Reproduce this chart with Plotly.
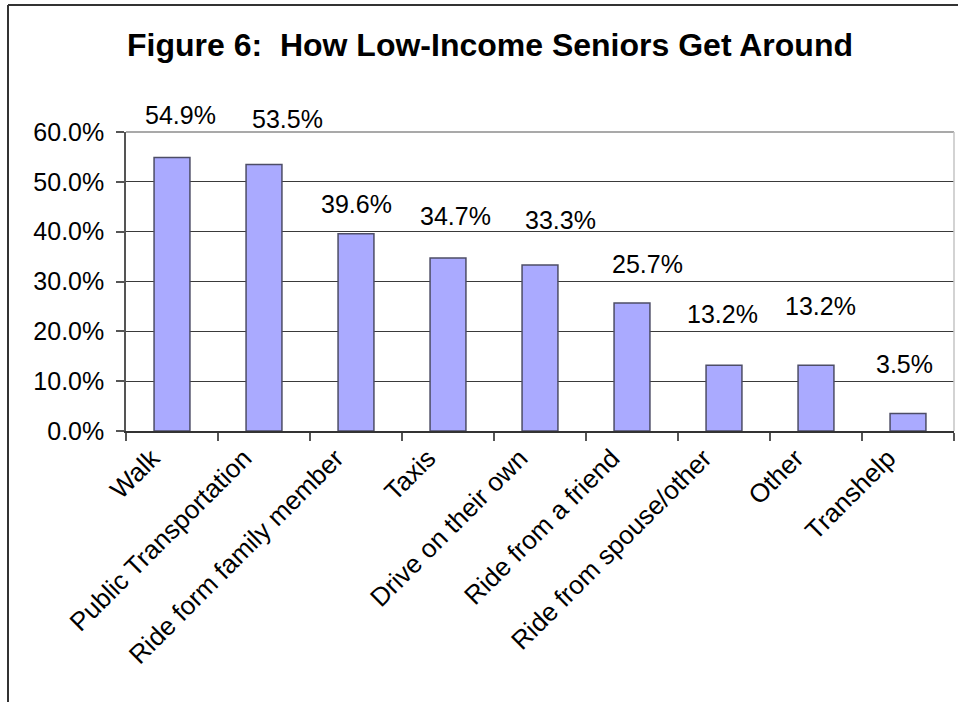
import plotly.graph_objects as go

# Survey results: share of low-income seniors using each way of getting around
categories = [
    "Walk",
    "Public Transportation",
    "Ride form family member",
    "Taxis",
    "Drive on their own",
    "Ride from a friend",
    "Ride from spouse/other",
    "Other",
    "Transhelp",
]
shares = [54.9, 53.5, 39.6, 34.7, 33.3, 25.7, 13.2, 13.2, 3.5]  # percent
y_ticks = [0, 10, 20, 30, 40, 50, 60]
y_tick_labels = ["0.0%", "10.0%", "20.0%", "30.0%", "40.0%", "50.0%", "60.0%"]

# Hand-placed value labels: pixel nudges from each bar's top
label_dx = [8, 23, 0, 7, 20, 15, -2, 4, -4]
label_dy = [42, 45, 30, 42, 45, 39, 51, 59, 50]

W, H = 958, 702
ML, MR, MT, MB = 126, 4, 132, 271
FONT = "Liberation Sans, Arial, sans-serif"

fig = go.Figure(
    go.Bar(
        x=categories,
        y=shares,
        width=0.39,
        marker=dict(color="#aaaaff", line=dict(color="#4d4d66", width=1.5)),
        hoverinfo="skip",
    )
)

for cat, val, dx, dy in zip(categories, shares, label_dx, label_dy):
    fig.add_annotation(
        x=cat, y=val, text=f"{val:.1f}%", showarrow=False,
        xshift=dx, yshift=dy, yanchor="middle",
        font=dict(family=FONT, size=25, color="#000000"),
    )

# paper-coordinate helpers for the outer frame
pw, ph = W - ML - MR, H - MT - MB
def px_x(p):
    return (p - ML) / pw
def px_y(p):
    return (H - MB - p) / ph

shapes = [
    # outer chart frame (left and top edges)
    dict(type="line", xref="paper", yref="paper", x0=px_x(8), x1=px_x(W + 2),
         y0=px_y(5), y1=px_y(5), line=dict(color="#333333", width=2)),
    dict(type="line", xref="paper", yref="paper", x0=px_x(8), x1=px_x(8),
         y0=px_y(5), y1=px_y(H + 2), line=dict(color="#333333", width=2)),
    # plot-area border (top and right)
    dict(type="line", xref="paper", yref="paper", x0=0, x1=1, y0=1, y1=1,
         line=dict(color="#8c8c8c", width=1.5), layer="above"),
    dict(type="line", xref="paper", yref="paper", x0=1, x1=1, y0=0, y1=1,
         line=dict(color="#c4c4c4", width=1.5), layer="above"),
]

fig.update_layout(
    width=W,
    height=H,
    margin=dict(l=ML, r=MR, t=MT, b=MB, autoexpand=False),
    paper_bgcolor="#ffffff",
    plot_bgcolor="#ffffff",
    showlegend=False,
    bargap=0.61,
    title=dict(
        text="<b>Figure 6:  How Low-Income Seniors Get Around</b>",
        font=dict(family=FONT, size=32, color="#000000"),
        xref="container", x=490 / W, xanchor="center",
        yref="container", y=1 - 45 / H, yanchor="middle",
    ),
    shapes=shapes,
    font=dict(family=FONT, size=25, color="#000000"),
)

fig.update_yaxes(
    range=[0, 60],
    tickvals=y_ticks,
    ticktext=y_tick_labels,
    showgrid=True,
    gridcolor="#3a3a3a",
    gridwidth=1,
    zeroline=False,
    showline=True,
    linecolor="#555555",
    linewidth=1.5,
    ticks="outside",
    ticklen=8,
    tickcolor="#555555",
    tickwidth=1.5,
    ticklabelstandoff=7,
    tickfont=dict(family=FONT, size=25, color="#000000"),
    fixedrange=True,
)

fig.update_xaxes(
    showgrid=False,
    showline=True,
    linecolor="#333333",
    linewidth=1.5,
    ticks="outside",
    tickson="boundaries",
    ticklen=8,
    tickcolor="#555555",
    tickwidth=1.5,
    tickangle=-45,
    ticklabelshift=-20,
    tickfont=dict(family=FONT, size=26, color="#000000"),
    fixedrange=True,
)

fig.write_html("out.html", config={"displayModeBar": False})
